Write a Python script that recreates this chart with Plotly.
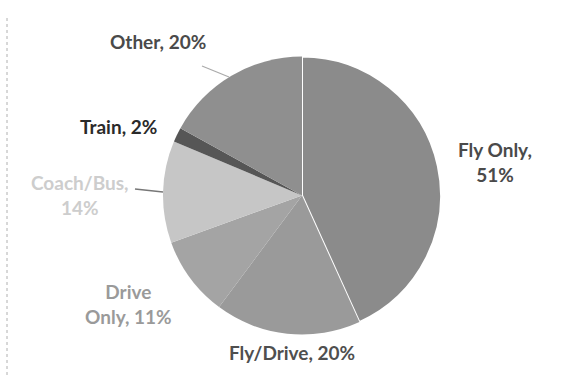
import plotly.graph_objects as go

# Data
categories = ["Fly Only", "Fly/Drive", "Drive Only", "Coach/Bus", "Train", "Other"]
values = [51, 20, 11, 14, 2, 20]
label_text = ["Fly Only,<br>51%", "Fly/Drive, 20%", "Drive<br>Only, 11%",
              "Coach/Bus,<br>14%", "Train, 2%", "Other, 20%"]

# Styling
slice_colors = ["#8b8b8b", "#9a9a9a", "#a4a4a4", "#c6c6c6", "#565656", "#8f8f8f"]
line_widths = [2, 0, 0, 0, 0, 0]
text_colors = ["#4a4a4a", "#4f4f4f", "#9a9a9a", "#cdcdcd", "#2a2a2a", "#4a4a4a"]
# label centers in pixels (x, y from top)
label_pos = [(495, 162), (292, 352), (128, 304), (80, 195), (118, 127), (158, 42)]

W, H = 564, 376
cx, cy, r = 302, 195.5, 139

fig = go.Figure(go.Pie(
    labels=categories,
    values=values,
    sort=False,
    direction="clockwise",
    rotation=0,
    textinfo="none",
    hoverinfo="label+percent",
    marker=dict(colors=slice_colors,
                line=dict(color="white", width=line_widths)),
    domain=dict(x=[(cx - r) / W, (cx + r) / W],
                y=[1 - (cy + r) / H, 1 - (cy - r) / H]),
    showlegend=False,
))

annotations = []
for txt, col, (px, py) in zip(label_text, text_colors, label_pos):
    annotations.append(dict(
        x=px / W, y=1 - py / H, xref="paper", yref="paper",
        text="<b>" + txt + "</b>", showarrow=False, align="center",
        xanchor="center", yanchor="middle",
        font=dict(family="Lato, Open Sans, sans-serif", size=19, color=col),
    ))

shapes = [
    # leader lines
    dict(type="line", xref="paper", yref="paper",
         x0=202 / W, y0=1 - 66 / H, x1=229 / W, y1=1 - 77 / H,
         line=dict(color="#aaaaaa", width=1.2)),
    dict(type="line", xref="paper", yref="paper",
         x0=135 / W, y0=1 - 189 / H, x1=163 / W, y1=1 - 192 / H,
         line=dict(color="#777777", width=1.5)),
    # scan border on the left
    dict(type="line", xref="paper", yref="paper",
         x0=7 / W, y0=1 - 18 / H, x1=7 / W, y1=0,
         line=dict(color="#b0b0b0", width=1, dash="dot")),
]

fig.update_layout(
    width=W, height=H,
    margin=dict(l=0, r=0, t=0, b=0),
    paper_bgcolor="white",
    plot_bgcolor="white",
    annotations=annotations,
    shapes=shapes,
)

fig.write_html("out.html")
